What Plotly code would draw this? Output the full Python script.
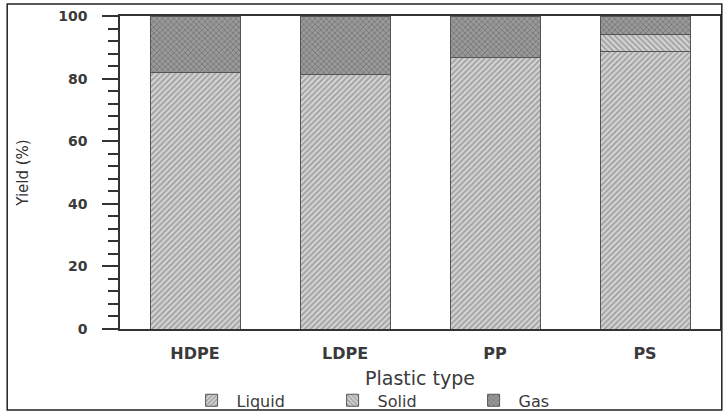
import plotly.graph_objects as go

categories = ["HDPE", "LDPE", "PP", "PS"]
liquid = [82.1, 81.2, 86.6, 88.8]
solid = [0, 0, 0, 5.2]
gas = [17.9, 18.8, 13.4, 6.0]

fig = go.Figure()
FONT = "DejaVu Sans"
TXT = "#3a3a3a"

fig.add_trace(go.Bar(
    name="Liquid", x=categories, y=liquid, width=0.6,
    marker=dict(color="#d4d4d4", line=dict(color="#555555", width=1),
                pattern=dict(shape="/", fgcolor="#6a6a6a", size=4, solidity=0.45)),
))
fig.add_trace(go.Bar(
    name="Solid", x=categories, y=solid, width=0.6,
    marker=dict(color="#d4d4d4", line=dict(color="#555555", width=1),
                pattern=dict(shape="\\", fgcolor="#6a6a6a", size=4, solidity=0.45)),
))
fig.add_trace(go.Bar(
    name="Gas", x=categories, y=gas, width=0.6,
    marker=dict(color="#9a9a9a", line=dict(color="#555555", width=1),
                pattern=dict(shape="x", fgcolor="#555555", size=4, solidity=0.4)),
))

fig.update_layout(
    barmode="stack",
    width=724, height=412,
    margin=dict(l=120, r=4, t=16, b=83, autoexpand=False),
    paper_bgcolor="white", plot_bgcolor="white",
    font=dict(family=FONT, color=TXT),
    showlegend=True,
    legend=dict(orientation="h", x=0.111, y=-0.228, xanchor="left", yanchor="middle",
                font=dict(size=16, color=TXT), traceorder="normal",
                itemwidth=40, entrywidth=86, bgcolor="rgba(0,0,0,0)"),
    xaxis=dict(
        automargin=False,
        showline=True, linecolor="#333333", linewidth=1.5, mirror=True,
        ticks="", showgrid=False,
        tickfont=dict(size=16, color=TXT, family=FONT, weight="bold"),
        ticklabelstandoff=9,
        title=dict(text="Plastic type", font=dict(size=19, color=TXT, family=FONT), standoff=10),
    ),
    yaxis=dict(
        automargin=False,
        range=[0, 100], dtick=20, showgrid=False, zeroline=False,
        showline=True, linecolor="#333333", linewidth=1.5, mirror=True,
        ticks="outside", ticklen=16, tickwidth=1.5, tickcolor="#333333",
        minor=dict(dtick=4, ticks="outside", ticklen=10, tickwidth=1.5, tickcolor="#333333"),
        tickfont=dict(size=14, color=TXT, family=FONT, weight="bold"),
        ticklabelstandoff=12,
        title=dict(text="Yield (%)", font=dict(size=15, color="#333333"), standoff=26),
    ),
    shapes=[dict(type="rect", xref="paper", yref="paper",
                 x0=-0.188, x1=1.003, y0=-0.259, y1=1.038,
                 line=dict(color="#222222", width=1.5), fillcolor="rgba(0,0,0,0)")],
)

fig.write_html("out.html", config={"displayModeBar": False},
               post_script="document.body.style.margin='0';")
